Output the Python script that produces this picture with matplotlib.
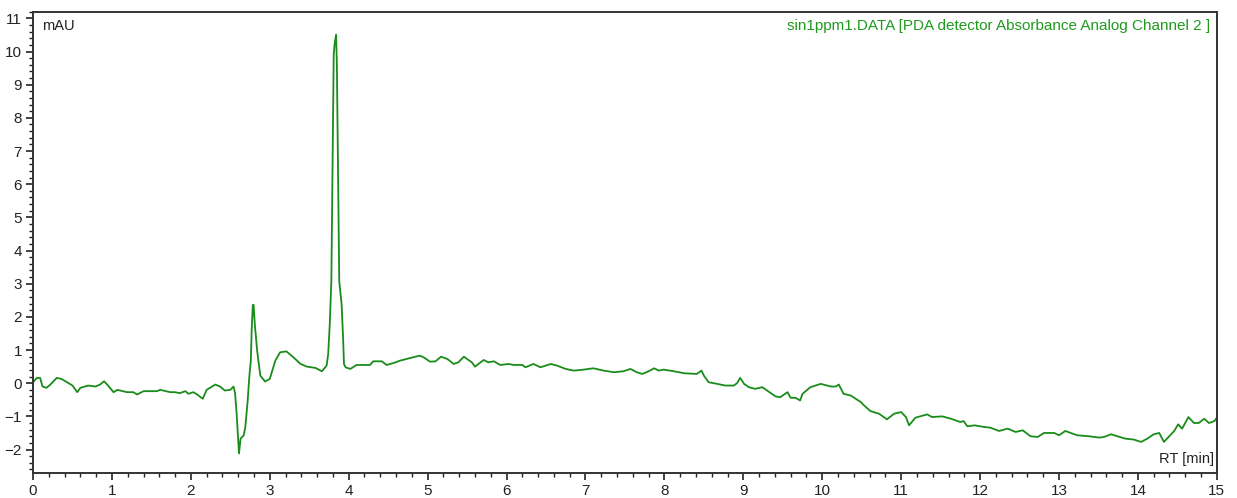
import matplotlib.pyplot as plt
from matplotlib.ticker import MultipleLocator

# retention time (min) and absorbance (mAU)
rt = [0.00, 0.05, 0.09, 0.12, 0.17, 0.22, 0.30, 0.36, 0.43, 0.50, 0.56, 0.60, 0.70, 0.79,
      0.85, 0.90, 0.95, 1.02, 1.07, 1.19, 1.27, 1.32, 1.40, 1.57, 1.61, 1.74, 1.80, 1.86,
      1.93, 1.97, 2.03, 2.08, 2.15, 2.20, 2.31, 2.37, 2.43, 2.50, 2.54, 2.56, 2.58, 2.60,
      2.61, 2.63, 2.67, 2.69, 2.72, 2.74, 2.76, 2.77, 2.785, 2.795, 2.81, 2.84, 2.88, 2.94,
      3.00, 3.07, 3.13, 3.21, 3.30, 3.39, 3.47, 3.58, 3.66, 3.72, 3.74, 3.76, 3.78, 3.81,
      3.82, 3.84, 3.85, 3.88, 3.91, 3.93, 3.94, 3.96, 4.02, 4.10, 4.27, 4.31, 4.42, 4.48,
      4.57, 4.65, 4.78, 4.90, 4.95, 5.03, 5.10, 5.17, 5.25, 5.33, 5.39, 5.46, 5.50, 5.56,
      5.60, 5.71, 5.77, 5.84, 5.92, 6.03, 6.09, 6.20, 6.24, 6.34, 6.43, 6.56, 6.64, 6.75,
      6.85, 6.98, 7.10, 7.23, 7.36, 7.48, 7.57, 7.65, 7.72, 7.80, 7.87, 7.93, 7.99, 8.12,
      8.25, 8.41, 8.47, 8.50, 8.56, 8.67, 8.77, 8.88, 8.92, 8.96, 9.01, 9.07, 9.15, 9.24,
      9.30, 9.41, 9.47, 9.56, 9.60, 9.66, 9.72, 9.75, 9.85, 9.98, 10.11, 10.17, 10.21,
      10.27, 10.36, 10.49, 10.53, 10.61, 10.72, 10.82, 10.91, 11.00, 11.06, 11.10, 11.18,
      11.33, 11.39, 11.52, 11.63, 11.75, 11.79, 11.84, 11.93, 12.05, 12.13, 12.24, 12.35,
      12.45, 12.54, 12.64, 12.73, 12.81, 12.94, 13.00, 13.08, 13.23, 13.38, 13.51, 13.57,
      13.66, 13.74, 13.84, 13.95, 14.04, 14.12, 14.20, 14.27, 14.33, 14.42, 14.46, 14.51,
      14.56, 14.64, 14.71, 14.77, 14.84, 14.90, 14.97, 15.00]
mau = [0.03, 0.16, 0.16, -0.10, -0.14, -0.04, 0.16, 0.13, 0.03, -0.07, -0.27, -0.14, -0.07,
       -0.10, -0.04, 0.06, -0.07, -0.27, -0.20, -0.27, -0.27, -0.34, -0.24, -0.24, -0.20,
       -0.27, -0.27, -0.30, -0.24, -0.32, -0.27, -0.34, -0.47, -0.20, -0.04, -0.10, -0.22,
       -0.20, -0.10, -0.30, -0.92, -1.72, -2.12, -1.67, -1.57, -1.32, -0.52, 0.18, 0.68,
       1.58, 2.36, 2.36, 1.78, 0.98, 0.23, 0.05, 0.13, 0.68, 0.93, 0.96, 0.78, 0.58, 0.50,
       0.46, 0.36, 0.53, 0.88, 1.78, 3.08, 9.90, 10.20, 10.51, 9.60, 3.08, 2.38, 1.28, 0.58,
       0.48, 0.43, 0.55, 0.55, 0.66, 0.66, 0.55, 0.61, 0.68, 0.76, 0.83, 0.78, 0.65, 0.66,
       0.80, 0.73, 0.58, 0.63, 0.80, 0.73, 0.63, 0.50, 0.70, 0.63, 0.66, 0.55, 0.58, 0.55,
       0.55, 0.48, 0.58, 0.48, 0.58, 0.53, 0.43, 0.38, 0.41, 0.45, 0.38, 0.33, 0.36, 0.43,
       0.33, 0.28, 0.36, 0.45, 0.38, 0.41, 0.36, 0.30, 0.28, 0.38, 0.23, 0.03, -0.02, -0.07,
       -0.07, 0.00, 0.16, -0.02, -0.12, -0.17, -0.12, -0.22, -0.40, -0.42, -0.27, -0.44,
       -0.44, -0.52, -0.32, -0.12, -0.02, -0.10, -0.10, -0.04, -0.32, -0.37, -0.57, -0.67,
       -0.84, -0.92, -1.09, -0.92, -0.87, -1.02, -1.27, -1.04, -0.94, -1.02, -1.00, -1.07,
       -1.17, -1.14, -1.30, -1.27, -1.32, -1.34, -1.44, -1.37, -1.47, -1.42, -1.60, -1.62,
       -1.50, -1.50, -1.57, -1.44, -1.57, -1.60, -1.64, -1.62, -1.54, -1.60, -1.67, -1.70,
       -1.77, -1.67, -1.54, -1.50, -1.77, -1.54, -1.44, -1.24, -1.37, -1.02, -1.20, -1.20,
       -1.07, -1.20, -1.14, -1.04]

x_ticks = list(range(0, 16))
y_ticks = list(range(-2, 12))

title = "sin1ppm1.DATA [PDA detector Absorbance Analog Channel 2 ]"

plt.rcParams['font.family'] = ['Liberation Sans', 'DejaVu Sans']

fig = plt.figure(figsize=(12.37, 4.98), dpi=100)
ax = fig.add_axes([0.0267, 0.05, 0.957, 0.9265])

ax.plot(rt, mau, color='#1a8c1a', lw=1.3)

ax.set_xlim(0, 15)
ax.set_ylim(-2.71, 11.2)
ax.set_xticks(x_ticks)
ax.set_yticks(y_ticks)
ax.xaxis.set_minor_locator(MultipleLocator(0.2))
ax.yaxis.set_minor_locator(MultipleLocator(0.2))
ax.tick_params(which='major', length=5, width=1.2, color='#222222', labelsize=11,
               labelcolor='#222222', pad=3)
ax.tick_params(which='minor', length=3, width=1.0, color='#222222')

for s in ax.spines.values():
    s.set_color('#333333')
    s.set_linewidth(1.4)

ax.text(0.008, 0.985, "mAU", transform=ax.transAxes, ha='left', va='top',
        fontsize=10.5, color='#222222')
ax.text(0.9945, 0.985, title, transform=ax.transAxes, ha='right', va='top',
        fontsize=11, color='#1f9a1f')
ax.text(0.9975, 0.015, "RT [min]", transform=ax.transAxes, ha='right', va='bottom',
        fontsize=10.5, color='#222222')

fig.savefig('out.png', dpi=100)
